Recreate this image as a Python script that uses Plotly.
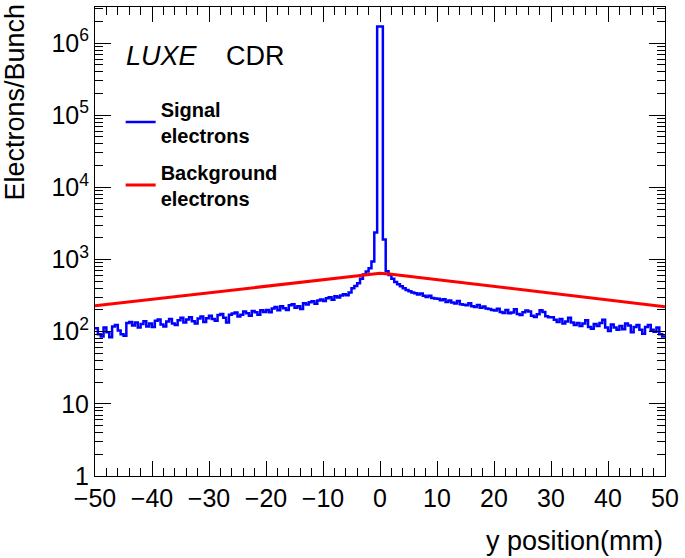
import numpy as np
import plotly.graph_objects as go

# ---------------- data ----------------
BIN_LO = -50.0
BIN_WIDTH = 0.5

# Signal electrons per 0.5 mm bin, from y=-50 to y=0
signal_left = [
    112, 92, 86, 114, 98, 84, 118, 124, 104, 92,
    88, 132, 136, 122, 134, 114, 128, 140, 118, 130,
    116, 142, 148, 126, 118, 138, 150, 130, 124, 144,
    156, 134, 148, 158, 140, 130, 152, 162, 136, 154,
    166, 150, 142, 170, 176, 156, 134, 172, 178, 184,
    162, 172, 190, 180, 166, 194, 186, 172, 198, 188,
    200, 186, 210, 220, 198, 226, 212, 200, 232, 240,
    214, 226, 206, 248, 238, 256, 264, 244, 270, 280,
    266, 290, 300, 278, 310, 298, 318, 330, 320, 350,
    400, 430, 470, 540, 620, 680, 760, 940, 2370, 1700000,
]
# Signal electrons per 0.5 mm bin, from y=0 to y=50
signal_right = [
    1700000, 1900, 690, 610, 540, 490, 455, 425, 400, 378,
    364, 350, 342, 328, 338, 316, 302, 314, 294, 288,
    286, 272, 282, 258, 270, 254, 246, 266, 240, 236,
    232, 248, 226, 220, 234, 214, 224, 210, 206, 200,
    196, 208, 188, 182, 200, 180, 184, 204, 176, 170,
    186, 196, 190, 166, 160, 174, 198, 188, 164, 158,
    158, 146, 136, 150, 130, 138, 156, 134, 124, 132,
    120, 130, 144, 116, 110, 128, 120, 132, 146, 114,
    102, 126, 114, 106, 120, 108, 130, 122, 98, 116,
    124, 106, 94, 116, 124, 106, 100, 114, 92, 86,
]
signal = signal_left + signal_right

# Background electrons
bkg_y = [-50, -40, -30, -20, -10, -5, -2, 0, 2, 5, 10, 20, 30, 40, 50]
bkg_val = [229, 282, 348, 430, 530, 585, 625, 645, 625, 585, 528, 425, 342, 276, 222]

y_tickvals = [1, 10, 100, 1000, 10000, 100000, 1000000]
y_ticktext = ["1", "10", "10<sup>2</sup>", "10<sup>3</sup>", "10<sup>4</sup>",
              "10<sup>5</sup>", "10<sup>6</sup>"]
x_tickvals = [-50, -40, -30, -20, -10, 0, 10, 20, 30, 40, 50]
x_ticktext = ["\u221250", "\u221240", "\u221230", "\u221220", "\u221210",
              "0", "10", "20", "30", "40", "50"]

# ---------------- figure ----------------
n = len(signal)
edges = BIN_LO + BIN_WIDTH * np.arange(n + 1)
step_x = list(edges)
step_y = list(signal) + [signal[-1]]

FONT = "Liberation Sans, Arial, Helvetica, sans-serif"

fig = go.Figure()
fig.add_trace(go.Scatter(
    x=step_x, y=step_y, mode="lines", line_shape="hv",
    line=dict(color="#0000ff", width=2.5),
    name="<b>Signal<br>electrons</b>", legendgroup="sig",
))
fig.add_trace(go.Scatter(
    x=bkg_y, y=bkg_val, mode="lines",
    line=dict(color="#ff0000", width=3),
    name="<b>Background<br>electrons</b>", legendgroup="bkg",
))

minor_y = [m * 10 ** k for k in range(0, 7) for m in range(2, 10)]

fig.update_layout(
    width=685, height=558, autosize=False,
    margin=dict(l=95, r=16, t=6, b=82),
    paper_bgcolor="white", plot_bgcolor="white",
    font=dict(family=FONT, color="black", size=24),
    showlegend=True,
    legend=dict(
        x=0.045, y=0.824, xanchor="left", yanchor="top",
        bgcolor="rgba(0,0,0,0)", font=dict(size=20, family=FONT),
        itemwidth=30, valign="middle", tracegroupgap=8,
    ),
    xaxis=dict(
        range=[-50, 50], showgrid=False, zeroline=False,
        showline=True, linecolor="black", linewidth=1, mirror="ticks",
        ticks="inside", ticklen=15, tickcolor="black", tickwidth=1,
        tickmode="array", tickvals=x_tickvals, ticktext=x_ticktext,
        tickfont=dict(size=25, family=FONT),
        minor=dict(ticks="inside", ticklen=8, dtick=2, tickcolor="black",
                   showgrid=False),
    ),
    yaxis=dict(
        type="log", range=[0, 6.5], showgrid=False, zeroline=False,
        showline=True, linecolor="black", linewidth=1, mirror="ticks",
        ticks="inside", ticklen=16, tickcolor="black", tickwidth=1,
        tickmode="array", tickvals=y_tickvals, ticktext=y_ticktext,
        tickfont=dict(size=25, family=FONT),
        minor=dict(ticks="inside", ticklen=8, tickmode="array",
                   tickvals=minor_y, tickcolor="black", showgrid=False),
    ),
)

fig.add_annotation(
    text="y position(mm)", xref="paper", yref="paper",
    x=1.0, y=-0.138, xanchor="right", yanchor="middle",
    showarrow=False, font=dict(size=27, family=FONT),
)
fig.add_annotation(
    text="Electrons/Bunch", xref="paper", yref="paper",
    x=-0.14, y=1.011, xanchor="center", yanchor="top", textangle=-90,
    showarrow=False, font=dict(size=27, family=FONT),
)
fig.add_annotation(
    text="<i>LUXE</i>", xref="paper", yref="paper",
    x=0.05, y=0.895, xanchor="left", yanchor="middle",
    showarrow=False, font=dict(size=27, family=FONT),
)
fig.add_annotation(
    text="CDR", xref="paper", yref="paper",
    x=0.226, y=0.895, xanchor="left", yanchor="middle",
    showarrow=False, font=dict(size=27, family=FONT),
)

fig.write_html(
    "out.html",
    config={"displayModeBar": False},
    post_script="document.body.style.margin='0';document.body.style.padding='0';",
)
